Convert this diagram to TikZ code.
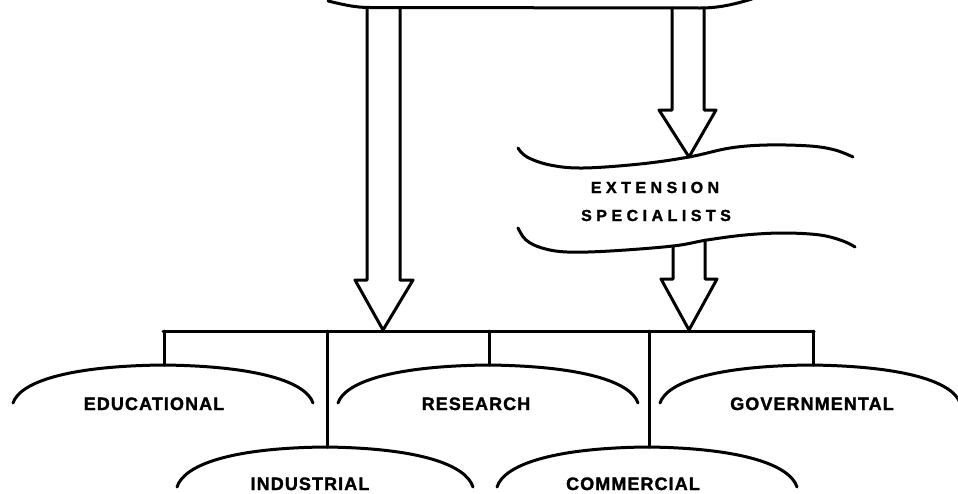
\documentclass[tikz,border=0pt]{standalone}
\usepackage{fontspec}
\setmainfont{Liberation Sans}
\newfontfamily\lowfont[LetterSpace=6,FakeBold=1.6]{Liberation Sans Bold}
\newfontfamily\extfont[LetterSpace=28,FakeBold=1.6]{Liberation Sans Bold}
\begin{document}
\begin{tikzpicture}[x=1pt,y=-1pt,line width=3pt,line join=round,line cap=round,
  lowlbl/.style={font=\lowfont\fontsize{18}{21}\selectfont,inner sep=0pt,anchor=base},
  extlbl/.style={font=\extfont\fontsize{16}{19}\selectfont,inner sep=0pt,anchor=base}]
\useasboundingbox (0,0) rectangle (958,493);

% top banner (bottom edge only visible)
\draw (328,1) .. controls (345,5) and (355,7.5) .. (370,7.5) -- (700,8) .. controls (720,8) and (735,4) .. (752,-1);

% left long block arrow
\draw (367,8) -- (367,280) -- (355,280) -- (383,330) -- (413,280) -- (400,280) -- (400,8);

% upper right block arrow
\draw (672,8) -- (672,110) -- (659,110) -- (689,157) -- (716,110) -- (704,110) -- (704,8);

% extension specialists scroll
\draw plot[smooth,tension=0.6] coordinates {(518,148) (527,157) (550,165) (583,168) (640,164) (689,157) (730,148) (767,145) (810,146) (835,150) (853,157)};
\draw plot[smooth,tension=0.6] coordinates {(518,228) (526,240) (542,248) (567,252) (610,251) (673,246) (707,240) (745,235) (783,233) (820,235) (843,241) (855,247)};
\node[extlbl] (ext) at (655,193) {EXTENSION};
\node[extlbl] (spec) at (656,221) {SPECIALISTS};

% lower right block arrow
\draw (673,246) -- (673,279) -- (661,279) -- (689,330) -- (717,279) -- (705,279) -- (705,240);

% distribution bar
\coordinate (barL) at (163,331);
\coordinate (barR) at (814,331);
\draw (barL) -- (barR);

\coordinate (bEdu) at (164,331);
\coordinate (bInd) at (327,331);
\coordinate (bRes) at (489,331);
\coordinate (bCom) at (649,331);
\coordinate (bGov) at (813,331);

% arcs: tops
\coordinate (tEdu) at (164,365);
\coordinate (tRes) at (489,365);
\coordinate (tGov) at (813,365);
\coordinate (tInd) at (327,447);
\coordinate (tCom) at (649,447);

\draw (bEdu) -- (tEdu);
\draw (bInd) -- (tInd);
\draw (bRes) -- (tRes);
\draw (bCom) -- (tCom);
\draw (bGov) -- (tGov);

% arcs
\draw (13,403) .. controls (20,382) and (68,366) .. (163,365) .. controls (258,366) and (306,382) .. (313,403);
\draw (338,403) .. controls (345,382) and (393,366) .. (488,365) .. controls (583,366) and (631,382) .. (638,403);
\draw (660,403) .. controls (667,382) and (715,366) .. (810,365) .. controls (905,366) and (953,382) .. (960,403);
\draw (177,487) .. controls (184,465) and (230,448) .. (325,447) .. controls (420,448) and (466,465) .. (473,487);
\draw (497,487) .. controls (504,465) and (552,448) .. (647,447) .. controls (742,448) and (790,465) .. (797,487);

\node[lowlbl] (edu) at (154,410) {EDUCATIONAL};
\node[lowlbl] (res) at (476,410) {RESEARCH};
\node[lowlbl] (gov) at (812,410) {GOVERNMENTAL};
\node[lowlbl] (ind) at (310,490) {INDUSTRIAL};
\node[lowlbl] (com) at (633,490) {COMMERCIAL};
\end{tikzpicture}
\end{document}
